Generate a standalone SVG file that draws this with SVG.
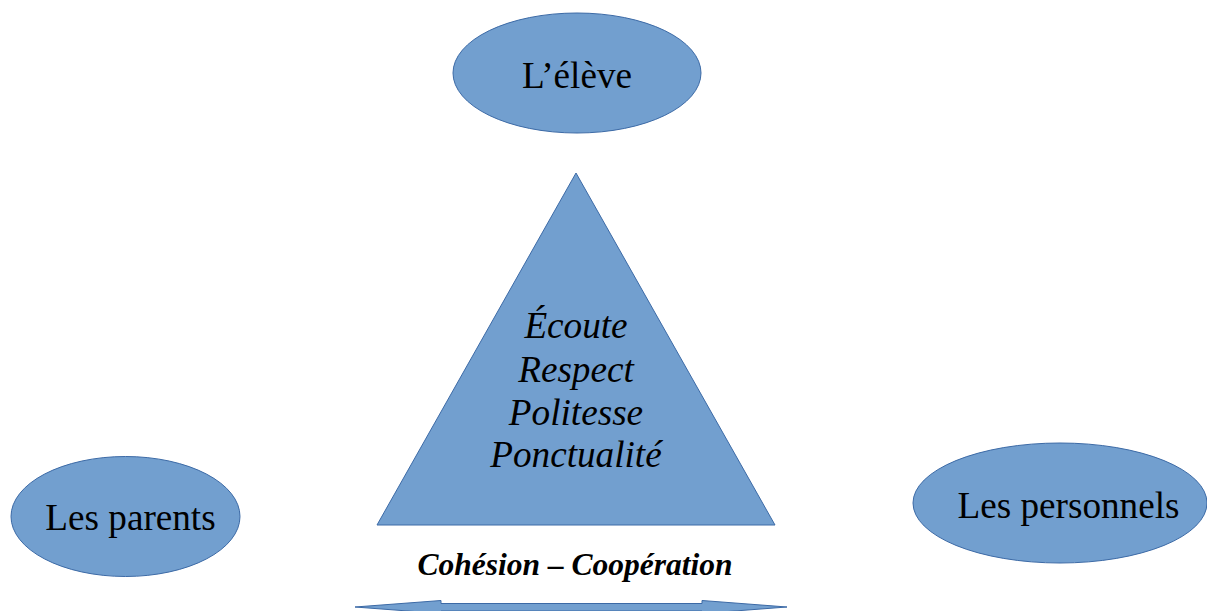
<svg xmlns="http://www.w3.org/2000/svg" width="1207" height="611" viewBox="0 0 1207 611">
<style>
.shape{fill:#729fcf;stroke:#3c6aa6;stroke-width:1}
.lbl{font-family:"Liberation Serif","Times New Roman",serif;font-size:37.2px;fill:#000;text-anchor:middle}
.it{font-family:"Liberation Serif","Times New Roman",serif;font-style:italic;font-size:37.2px;fill:#000;text-anchor:middle}
.bi{font-family:"Liberation Serif","Times New Roman",serif;font-style:italic;font-weight:bold;font-size:31.5px;fill:#000;text-anchor:middle}
</style>
<rect width="1207" height="611" fill="#fff"/>
<g id="eleve">
<ellipse class="shape" cx="577" cy="73" rx="124" ry="60"/>
<text class="lbl" x="577" y="88">L’élève</text>
</g>
<g id="valeurs">
<polygon class="shape" points="576,173 775,525 377,525"/>
<text class="it" x="576" y="338">Écoute</text>
<text class="it" x="576" y="382">Respect</text>
<text class="it" x="576" y="425">Politesse</text>
<text class="it" x="576" y="467">Ponctualité</text>
</g>
<g id="parents">
<ellipse class="shape" cx="125.5" cy="516.5" rx="114.5" ry="60"/>
<text class="lbl" x="130.5" y="530">Les parents</text>
</g>
<g id="personnels">
<ellipse class="shape" cx="1060" cy="503" rx="147" ry="60"/>
<text class="lbl" x="1068.5" y="518">Les personnels</text>
</g>
<g id="cohesion">
<text class="bi" x="575" y="575">Cohésion – Coopération</text>
</g>
<g id="connectors">
<polygon class="shape" points="355,607 441,600.5 441,603.5 702,603.5 702,600.5 787,607 702,613.5 702,611 441,611 441,613.5"/>
</g>
</svg>
